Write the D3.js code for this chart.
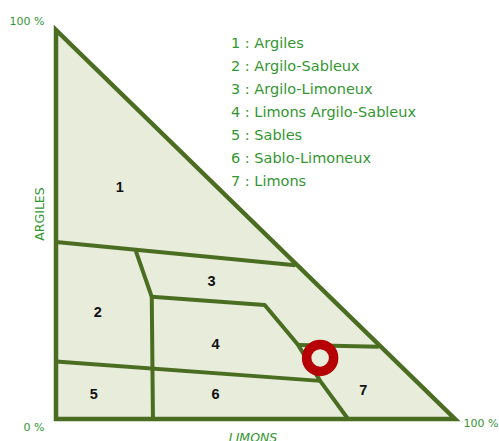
<!DOCTYPE html>
<html>
<head>
<meta charset="utf-8">
<script src="https://cdn.jsdelivr.net/npm/d3@7"></script>
<style>
  body { margin: 0; background: #fff; }
  svg { display: block; }
</style>
</head>
<body>
<svg id="chart"></svg>
<script>
// triangle corners, [limons %, argiles %]
var outline = [[0, 0], [100, 0], [0, 100]];

// boundaries between the zones
var boundaries = [
    [[0, 45.5], [60, 39.5]],
    [[20, 43.2], [24, 31.4], [24.3, 0]],
    [[24, 31.4], [52.3, 29.3], [60.7, 19], [66.2, 9.8], [73.2, 0]],
    [[60.7, 19], [80.9, 18.6]],
    [[0, 14.8], [66.2, 9.8]]
];

var zones = ["1", "2", "3", "4", "5", "6", "7"];
var zoneX = [16, 10.5, 39, 40, 9.5, 40, 77];
var zoneY = [59.6, 27.5, 35.5, 19.3, 6.4, 6.4, 7.5];

var legend = [
    "1 : Argiles",
    "2 : Argilo-Sableux",
    "3 : Argilo-Limoneux",
    "4 : Limons Argilo-Sableux",
    "5 : Sables",
    "6 : Sablo-Limoneux",
    "7 : Limons"
];

// the sample point
var sample = [66.2, 15.7];

var width = 499,
    height = 441,
    green = "#349632",
    lineColor = "#4a6d22";

var svg = d3.select("svg#chart")
    .attr("width", width)
    .attr("height", height);

var x = d3.scaleLinear().domain([0, 100]).range([56, 455]);
var y = d3.scaleLinear().domain([0, 100]).range([419, 30]);

var line = d3.line()
    .x(function(d) { return x(d[0]); })
    .y(function(d) { return y(d[1]); });

svg.append("path")
    .attr("d", line(outline) + "Z")
    .style("fill", "#e8eddb")
    .style("stroke", "none");

svg.selectAll("path.boundary")
    .data(boundaries)
    .enter()
    .append("path")
        .attr("class", "boundary")
        .attr("d", line)
        .style("fill", "none")
        .style("stroke", lineColor)
        .style("stroke-width", 4)
        .style("stroke-linejoin", "round");

svg.append("path")
    .attr("d", line(outline) + "Z")
    .style("fill", "none")
    .style("stroke", lineColor)
    .style("stroke-width", 4.5)
    .style("stroke-linejoin", "miter");

svg.selectAll("text.zone")
    .data(zones)
    .enter()
    .append("text")
        .attr("class", "zone")
        .attr("x", function(d, i) { return x(zoneX[i]); })
        .attr("y", function(d, i) { return y(zoneY[i]); })
        .attr("dy", "0.35em")
        .attr("text-anchor", "middle")
        .style("font", "bold 14.5px 'Liberation Sans', Arial, sans-serif")
        .style("fill", "#111")
        .text(function(d) { return d; });

svg.append("circle")
    .attr("cx", x(sample[0]))
    .attr("cy", y(sample[1]))
    .attr("r", 13.5)
    .style("fill", "none")
    .style("stroke", "#b50006")
    .style("stroke-width", 9.5);

svg.selectAll("text.legend")
    .data(legend)
    .enter()
    .append("text")
        .attr("class", "legend")
        .attr("x", 231)
        .attr("y", function(d, i) { return 43 + i * 23; })
        .attr("dy", "0.35em")
        .style("font", "14.5px 'DejaVu Sans', sans-serif")
        .style("fill", green)
        .text(function(d) { return d; });

var axisFont = "11px 'DejaVu Sans', sans-serif";

svg.append("text")
    .attr("x", 27).attr("y", 21).attr("dy", "0.35em")
    .attr("text-anchor", "middle")
    .style("font", axisFont).style("fill", green)
    .text("100 %");

svg.append("text")
    .attr("x", 34).attr("y", 427).attr("dy", "0.35em")
    .attr("text-anchor", "middle")
    .style("font", axisFont).style("fill", green)
    .text("0 %");

svg.append("text")
    .attr("x", 481).attr("y", 423).attr("dy", "0.35em")
    .attr("text-anchor", "middle")
    .style("font", axisFont).style("fill", green)
    .text("100 %");

svg.append("text")
    .attr("transform", "translate(43.5,214) rotate(-90)")
    .attr("text-anchor", "middle")
    .style("font", "12.5px 'DejaVu Sans', sans-serif").style("fill", green)
    .text("ARGILES");

svg.append("text")
    .attr("x", 253).attr("y", 441.5)
    .attr("text-anchor", "middle")
    .style("font", "italic 12.5px 'DejaVu Sans', sans-serif").style("fill", green)
    .text("LIMONS");
</script>
</body>
</html>
